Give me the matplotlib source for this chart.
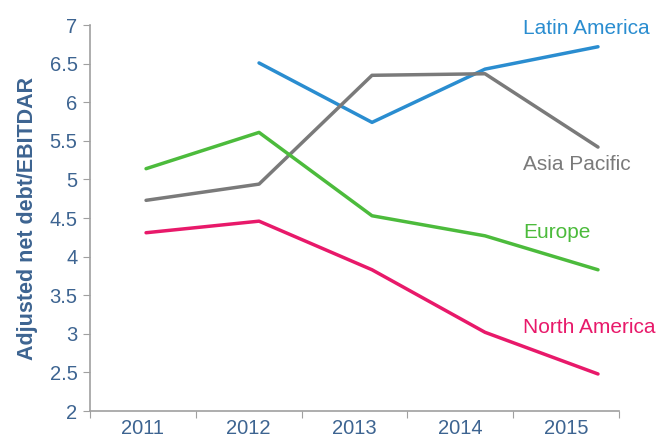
import matplotlib.pyplot as plt
import numpy as np

plt.rcParams['font.family'] = ['Liberation Sans', 'DejaVu Sans']

years = [2011, 2012, 2013, 2014, 2015]
north_america = [4.31, 4.46, 3.83, 3.02, 2.48]
europe = [5.14, 5.61, 4.53, 4.27, 3.83]
asia_pacific = [4.73, 4.94, 6.35, 6.37, 5.42]
latin_america = [np.nan, 6.51, 5.74, 6.43, 6.72]

series = [
    ("Latin America", latin_america, "#2a8dd0", 6.95),
    ("Asia Pacific", asia_pacific, "#7a7a7a", 5.19),
    ("Europe", europe, "#4cbb3c", 4.31),
    ("North America", north_america, "#e8196a", 3.08),
]

txt = "#3d6491"
axc = "#a0a0a0"

fig = plt.figure(figsize=(6.59, 4.41), dpi=100)
ax = fig.add_axes([0.1366, 0.068, 0.8027, 0.875])

# category axis (ticks between categories, labels centred)
ax.set_xlim(0, 5)
ax.set_xticks(range(6))
ax.set_xticklabels([])
ax.set_xticks(np.arange(0.5, 5, 1), [str(y) for y in years], minor=True)
ax.tick_params(axis="x", which="minor", length=0, pad=6, labelsize=14.5, labelcolor=txt)
ax.tick_params(axis="x", which="major", length=5, color=axc, direction="out")
ax.set_ylim(2, 7)
ax.set_yticks(np.arange(2, 7.01, 0.5))
ax.set_yticklabels(["%g" % v for v in np.arange(2, 7.01, 0.5)])
ax.tick_params(axis="y", length=5, color=axc, labelsize=14.5, labelcolor=txt, pad=4)
for s in ["top", "right"]:
    ax.spines[s].set_visible(False)
for s in ["left", "bottom"]:
    ax.spines[s].set_color(axc)
    ax.spines[s].set_linewidth(1.2)
ax.set_ylabel("Adjusted net debt/EBITDAR", fontsize=15.5, fontweight="bold", color=txt, labelpad=8)

# lines drawn on their own x scale
ax2 = ax.twiny()
ax2.set_xlim(2010.504, 2015.186)
ax2.set_ylim(2, 7)
ax2.axis("off")
for name, vals, col, ly in series:
    ax2.plot(years, vals, color=col, lw=2.5, solid_capstyle="round")
    ax2.text(2014.335, ly, name, color=col, fontsize=15, va="center", ha="left")

fig.savefig("out.png", dpi=100)
